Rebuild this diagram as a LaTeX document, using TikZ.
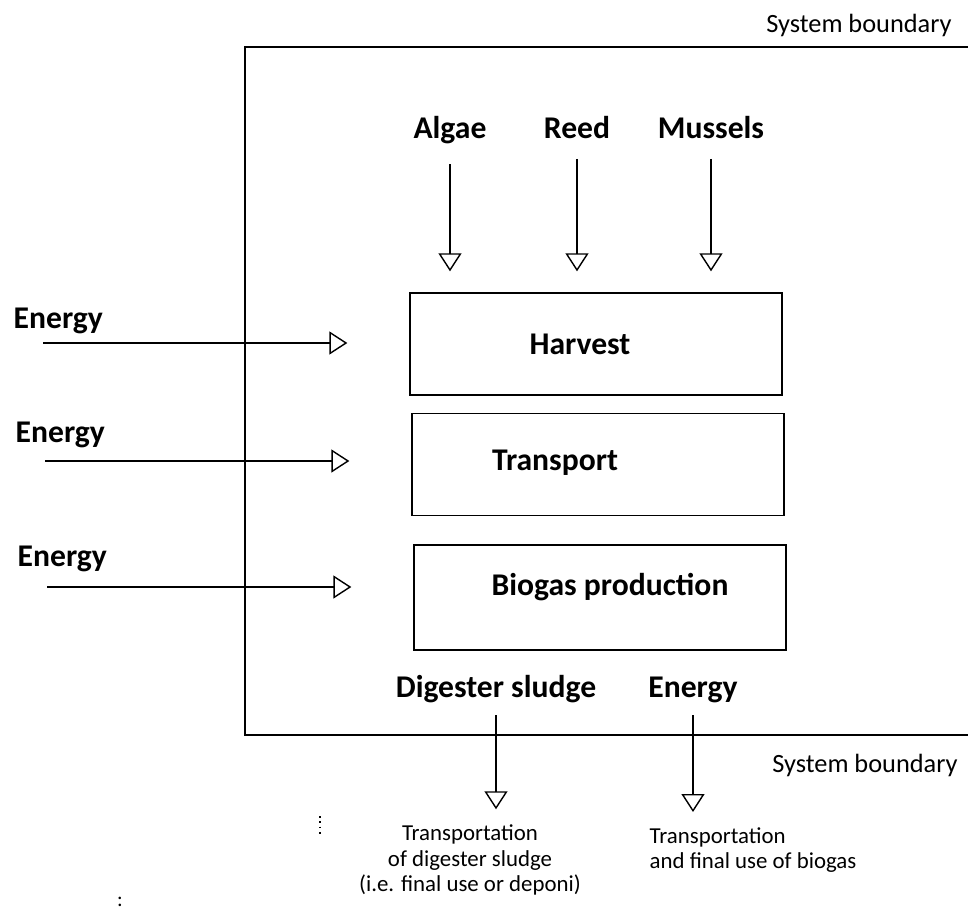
\documentclass[tikz,border=0pt]{standalone}
\usepackage{fontspec}
\setmainfont{Carlito}
\usetikzlibrary{arrows.meta,positioning}

\begin{document}
\begin{tikzpicture}[
    x=0.02cm,
    y=-0.02cm,
    line width=0.8pt,
    flow/.style={-{Triangle[open,length=0.36cm,width=0.46cm]}},
    lbl/.style={font=\fontsize{18}{20}\selectfont\bfseries,inner sep=0pt},
    stage/.style={draw,minimum width=7.44cm,minimum height=2.04cm},
    note/.style={font=\fontsize{13}{14.4}\selectfont,inner sep=0pt}
]

\useasboundingbox (0,0) rectangle (968,913);

% System boundary (open to the right)
\draw (968,47) -- (245,47) -- (245,735) -- (968,735);
\node[note,font=\fontsize{15}{17}\selectfont] (sbtop) at (859,25) {System boundary};
\node[note,font=\fontsize{15}{17}\selectfont] (sbbot) at (865,765) {System boundary};

% Raw materials
\node[lbl,anchor=base] (algae)   at (450,138) {Algae};
\node[lbl,anchor=base] (reed)    at (577,138) {Reed};
\node[lbl,anchor=base] (mussels) at (711,138) {Mussels};

% Process steps
\node[stage,label={[lbl,xshift=-0.32cm]center:Harvest}] (harvest) at (596,344) {};
\node[stage,label={[lbl,xshift=-0.86cm,yshift=0.04cm]center:Transport}] (transport) at (598,464.5) {};
\node[stage,minimum height=2.1cm,
    label={[lbl,xshift=0.2cm,yshift=0.2cm]center:Biogas production}] (biogas) at (600,597.5) {};

% Raw materials into harvest
\foreach \n in {algae,reed,mussels}
    \draw[flow,shorten <=0.4cm,shorten >=0.42cm]
        (\n.south) -- (\n.south |- harvest.north);

% Energy inputs
\node[lbl,anchor=base west] (en1) at (13,328) {Energy};
\node[lbl,anchor=base west] (en2) at (15,442) {Energy};
\node[lbl,anchor=base west] (en3) at (17,566) {Energy};

\coordinate (in1) at (43,343);
\coordinate (in2) at (45,461);
\coordinate (in3) at (47,587);

\draw[flow,shorten >=1.24cm] (in1) -- (in1 -| harvest.west);
\draw[flow,shorten >=1.24cm] (in2) -- (in2 -| transport.west);
\draw[flow,shorten >=1.24cm] (in3) -- (in3 -| biogas.west);

% Outputs
\node[lbl,anchor=base] (sludge) at (496,697) {Digester sludge};
\node[lbl,anchor=base] (enout)  at (693,697) {Energy};

\node[note,align=center] (capsludge) at (470,860)
    {Transportation\\ of digester sludge\\ (i.e. final use or deponi)};
\node[note,align=left,anchor=north west] (capgas) at (649,827)
    {Transportation\\ and final use of biogas};

\draw[flow,shorten <=0.24cm,shorten >=0.3cm]
    (sludge.south) -- (sludge.south |- capsludge.north);
\draw[flow,shorten <=0.24cm,shorten >=0.3cm]
    (enout.south) -- (enout.south |- capgas.north);

% Stray marks
\draw[dotted,line width=1pt] (320,816) -- (320,834);
\node[font=\fontsize{12}{12}\selectfont,inner sep=0pt] (mark) at (120,902) {:};

\end{tikzpicture}
\end{document}
